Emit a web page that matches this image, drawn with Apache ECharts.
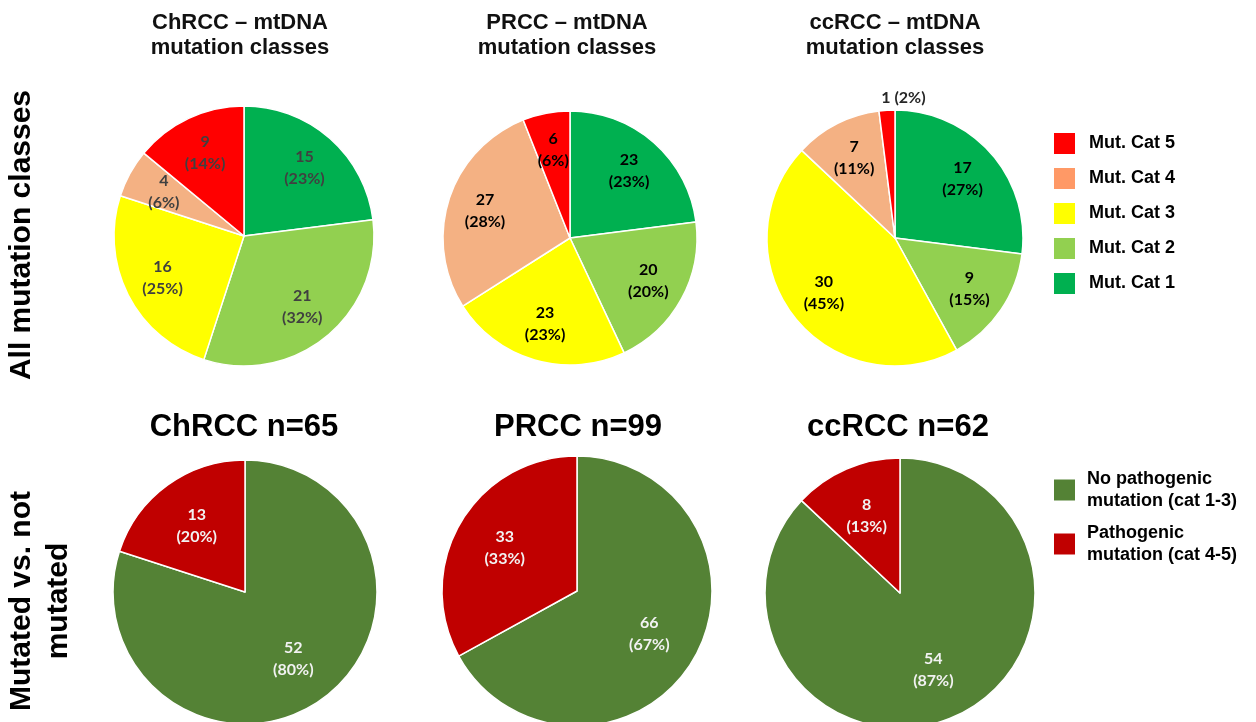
<!DOCTYPE html>
<html><head><meta charset="utf-8">
<script src="https://cdn.jsdelivr.net/npm/echarts@6/dist/echarts.min.js"></script>
<style>html,body{margin:0;padding:0;background:#fff}#c{width:1256px;height:722px}</style>
</head><body><div id="c"></div>
<script>
// ---- data ----
const classNames = ['Mut. Cat 1', 'Mut. Cat 2', 'Mut. Cat 3', 'Mut. Cat 4', 'Mut. Cat 5'];
const classColors = ['#00B050', '#92D050', '#FFFF00', '#F4B183', '#FF0000'];
const legendClassOrder = ['Mut. Cat 5', 'Mut. Cat 4', 'Mut. Cat 3', 'Mut. Cat 2', 'Mut. Cat 1'];
const legendClassColors = ['#FF0000', '#FF9966', '#FFFF00', '#92D050', '#00B050'];

const chrccCounts = [15, 21, 16, 4, 9];
const chrccPct = [23, 32, 25, 6, 14];
const prccCounts = [23, 20, 23, 27, 6];
const prccPct = [23, 20, 23, 28, 6];
const ccrccCounts = [17, 9, 30, 7, 1];
const ccrccPct = [27, 15, 45, 11, 2];

const statusNames = ['No pathogenic mutation (cat 1-3)', 'Pathogenic mutation (cat 4-5)'];
const statusColors = ['#548235', '#C00000'];
const chrccStatus = [52, 13];
const chrccStatusPct = [80, 20];
const prccStatus = [66, 33];
const prccStatusPct = [67, 33];
const ccrccStatus = [54, 8];
const ccrccStatusPct = [87, 13];

const topTitles = ['ChRCC \u2013 mtDNA\nmutation classes', 'PRCC \u2013 mtDNA\nmutation classes', 'ccRCC \u2013 mtDNA\nmutation classes'];
const bottomTitles = ['ChRCC n=65', 'PRCC n=99', 'ccRCC n=62'];

// ---- layout ----
const ARIAL = '"Liberation Sans", Arial, sans-serif';
const CAL = 'Lato, "Open Sans", sans-serif';

function pies(center, r, names, colors, pct, counts, labelColor, ratio, hideIdx) {
  const main = {
    type: 'pie', center: center, radius: r, startAngle: 90, clockwise: true,
    silent: true, animation: false, avoidLabelOverlap: false,
    itemStyle: { borderColor: '#ffffff', borderWidth: 1.5 },
    label: { show: false }, labelLine: { show: false },
    emphasis: { disabled: true },
    data: names.map((n, i) => ({ name: n, value: pct[i], itemStyle: { color: colors[i] } }))
  };
  const overlay = {
    type: 'pie', center: center, radius: r * ratio * 2, startAngle: 90, clockwise: true,
    silent: true, animation: false, avoidLabelOverlap: false, z: 5,
    itemStyle: { color: 'rgba(0,0,0,0)', borderWidth: 0 },
    labelLine: { show: false },
    emphasis: { disabled: true },
    label: {
      show: true, position: 'inside', color: labelColor,
      fontFamily: CAL, fontWeight: 'bold', fontSize: 16, lineHeight: 22,
      formatter: p => counts[p.dataIndex] + '\n(' + pct[p.dataIndex] + '%)'
    },
    data: names.map((n, i) => ({ name: n, value: pct[i],
      itemStyle: { color: 'rgba(0,0,0,0)' },
      label: { show: i !== hideIdx } }))
  };
  return [main, overlay];
}

const series = [];
series.push(...pies([244, 236], 130, classNames, classColors, chrccPct, chrccCounts, '#404040', 0.68, -1));
series.push(...pies([570, 238], 127, classNames, classColors, prccPct, prccCounts, '#000000', 0.68, -1));
const cc = pies([895, 238], 128, classNames, classColors, ccrccPct, ccrccCounts, '#000000', 0.68, 4);
// tiny slice label outside
cc[0].data[4].label = {
  show: true, position: 'outside', color: '#262626', fontFamily: CAL, fontWeight: 'bold', fontSize: 16,
  formatter: p => ccrccCounts[p.dataIndex] + ' (' + ccrccPct[p.dataIndex] + '%)'
};
cc[0].data[4].labelLine = { show: false, length: 12, length2: 0 };
cc[0].labelLayout = function (p) { return p.dataIndex === 4 ? { align: 'left' } : {}; };
series.push(...cc);

series.push(...pies([245, 592], 132, statusNames, statusColors, chrccStatusPct, chrccStatus, '#F2F2F2', 0.6, -1));
series.push(...pies([577, 591], 135, statusNames, statusColors, prccStatusPct, prccStatus, '#F2F2F2', 0.6, -1));
series.push(...pies([900, 593], 135, statusNames, statusColors, ccrccStatusPct, ccrccStatus, '#F2F2F2', 0.6, -1));

const topCenters = [240, 567, 895];
const botCenters = [244, 578, 898];
const titles = [];
topTitles.forEach((t, i) => titles.push({
  text: t, left: topCenters[i], top: 10, textAlign: 'center', padding: 0,
  textStyle: { fontFamily: ARIAL, fontWeight: 'bold', fontSize: 22, lineHeight: 25, color: '#111' }
}));
bottomTitles.forEach((t, i) => titles.push({
  text: t, left: botCenters[i], top: 409, textAlign: 'center', padding: 0,
  textStyle: { fontFamily: ARIAL, fontWeight: 'bold', fontSize: 31, lineHeight: 36, color: '#000' }
}));

const chart = echarts.init(document.getElementById('c'), null, { renderer: 'canvas' });
chart.setOption({
  backgroundColor: '#ffffff',
  animation: false,
  title: titles,
  legend: [
    {
      orient: 'vertical', left: 1052, top: 131, padding: 0, itemGap: 10,
      itemWidth: 23, itemHeight: 23, icon: 'rect', selectedMode: false,
      data: legendClassOrder.map((n, i) => ({ name: n, itemStyle: { color: legendClassColors[i] } })),
      textStyle: { fontFamily: ARIAL, fontWeight: 'bold', fontSize: 18, color: '#000', padding: [0, 0, 0, 8] }
    },
    {
      orient: 'vertical', left: 1052, top: 468, padding: 0, itemGap: 10,
      itemWidth: 23, itemHeight: 23, icon: 'rect', selectedMode: false,
      data: statusNames.map((n, i) => ({ name: n, itemStyle: { color: statusColors[i] } })),
      formatter: n => n.replace(' mutation', '\nmutation'),
      textStyle: { fontFamily: ARIAL, fontWeight: 'bold', fontSize: 18, lineHeight: 22, color: '#000', padding: [0, 0, 0, 6] }
    }
  ],
  graphic: [
    { type: 'text', x: 22, y: 235, rotation: Math.PI / 2,
      style: { text: 'All mutation classes', font: 'bold 30px ' + ARIAL, fill: '#000', align: 'center', verticalAlign: 'middle' } },
    { type: 'text', x: 40, y: 601, rotation: Math.PI / 2,
      style: { text: 'Mutated vs. not\nmutated', font: 'bold 30px ' + ARIAL, lineHeight: 37, fill: '#000', align: 'center', verticalAlign: 'middle' } }
  ],
  series: series
});
</script></body></html>
